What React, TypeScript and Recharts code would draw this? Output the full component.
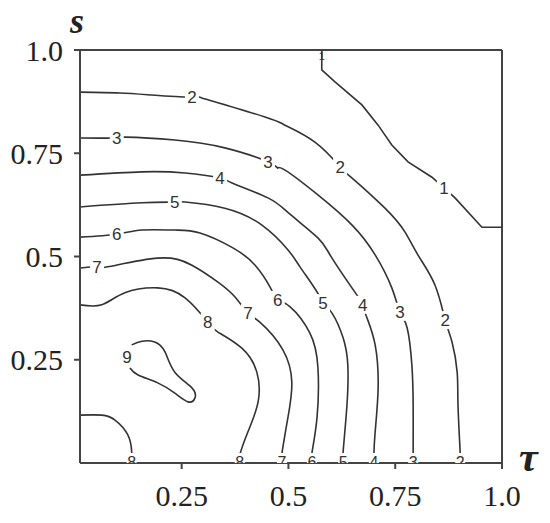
import { ComposedChart, Line, Scatter, XAxis, YAxis, ReferenceLine } from "recharts";

// contour lines, points as (tau, s)
const c1 = [
  { t: 0.578, s: 1.0 }, { t: 0.578, s: 0.952 }, { t: 0.609, s: 0.923 }, { t: 0.672, s: 0.867 },
  { t: 0.71, s: 0.818 }, { t: 0.742, s: 0.77 }, { t: 0.78, s: 0.729 }, { t: 0.836, s: 0.692 },
  { t: 0.864, s: 0.666 }, { t: 0.89, s: 0.642 }, { t: 0.953, s: 0.571 }, { t: 1.0, s: 0.571 },
];
const c2 = [
  { t: 0.012, s: 0.898 }, { t: 0.105, s: 0.896 }, { t: 0.18, s: 0.891 }, { t: 0.274, s: 0.886 },
  { t: 0.297, s: 0.884 }, { t: 0.445, s: 0.838 }, { t: 0.492, s: 0.818 }, { t: 0.562, s: 0.777 },
  { t: 0.621, s: 0.717 }, { t: 0.649, s: 0.69 }, { t: 0.726, s: 0.617 }, { t: 0.773, s: 0.559 },
  { t: 0.803, s: 0.504 }, { t: 0.843, s: 0.431 }, { t: 0.867, s: 0.346 }, { t: 0.883, s: 0.293 },
  { t: 0.895, s: 0.22 }, { t: 0.897, s: 0.14 }, { t: 0.902, s: 0.027 }, { t: 0.902, s: 0 },
];
const c3 = [
  { t: 0.012, s: 0.787 }, { t: 0.098, s: 0.787 }, { t: 0.117, s: 0.789 }, { t: 0.234, s: 0.782 },
  { t: 0.351, s: 0.763 }, { t: 0.452, s: 0.729 }, { t: 0.475, s: 0.714 }, { t: 0.492, s: 0.709 },
  { t: 0.569, s: 0.649 }, { t: 0.649, s: 0.576 }, { t: 0.703, s: 0.504 }, { t: 0.742, s: 0.424 },
  { t: 0.761, s: 0.366 }, { t: 0.778, s: 0.327 }, { t: 0.789, s: 0.237 }, { t: 0.792, s: 0.14 },
  { t: 0.792, s: 0.019 }, { t: 0.792, s: 0 },
];
const c4 = [
  { t: 0.012, s: 0.697 }, { t: 0.157, s: 0.705 }, { t: 0.258, s: 0.702 }, { t: 0.34, s: 0.69 },
  { t: 0.368, s: 0.678 }, { t: 0.452, s: 0.642 }, { t: 0.503, s: 0.603 }, { t: 0.569, s: 0.545 },
  { t: 0.602, s: 0.496 }, { t: 0.66, s: 0.407 }, { t: 0.674, s: 0.383 }, { t: 0.684, s: 0.351 },
  { t: 0.703, s: 0.286 }, { t: 0.71, s: 0.182 }, { t: 0.703, s: 0.075 }, { t: 0.7, s: 0.019 },
  { t: 0.7, s: 0 },
];
const c5 = [
  { t: 0.012, s: 0.62 }, { t: 0.157, s: 0.63 }, { t: 0.234, s: 0.632 }, { t: 0.258, s: 0.632 },
  { t: 0.351, s: 0.617 }, { t: 0.438, s: 0.576 }, { t: 0.499, s: 0.516 }, { t: 0.527, s: 0.475 },
  { t: 0.567, s: 0.414 }, { t: 0.581, s: 0.387 }, { t: 0.602, s: 0.363 }, { t: 0.628, s: 0.303 },
  { t: 0.639, s: 0.237 }, { t: 0.637, s: 0.14 }, { t: 0.628, s: 0.027 }, { t: 0.628, s: 0 },
];
const c6 = [
  { t: 0.012, s: 0.547 }, { t: 0.098, s: 0.554 }, { t: 0.157, s: 0.564 }, { t: 0.234, s: 0.564 },
  { t: 0.293, s: 0.557 }, { t: 0.37, s: 0.521 }, { t: 0.422, s: 0.479 }, { t: 0.457, s: 0.426 },
  { t: 0.475, s: 0.395 }, { t: 0.504, s: 0.378 }, { t: 0.55, s: 0.315 }, { t: 0.569, s: 0.232 },
  { t: 0.567, s: 0.111 }, { t: 0.555, s: 0.024 }, { t: 0.555, s: 0 },
];
const c7 = [
  { t: 0.012, s: 0.472 }, { t: 0.052, s: 0.475 }, { t: 0.077, s: 0.475 }, { t: 0.194, s: 0.496 },
  { t: 0.274, s: 0.479 }, { t: 0.335, s: 0.438 }, { t: 0.375, s: 0.402 },
  { t: 0.405, s: 0.363 }, { t: 0.433, s: 0.341 }, { t: 0.487, s: 0.274 }, { t: 0.508, s: 0.194 },
  { t: 0.499, s: 0.111 }, { t: 0.485, s: 0.024 }, { t: 0.485, s: 0 },
];
const c8 = [
  { t: 0.012, s: 0.383 }, { t: 0.063, s: 0.383 }, { t: 0.117, s: 0.412 }, { t: 0.194, s: 0.424 },
  { t: 0.258, s: 0.4 }, { t: 0.311, s: 0.341 }, { t: 0.335, s: 0.317 }, { t: 0.391, s: 0.278 },
  { t: 0.426, s: 0.22 }, { t: 0.429, s: 0.148 }, { t: 0.405, s: 0.075 }, { t: 0.386, s: 0.019 },
  { t: 0.386, s: 0 },
];
const c8corner = [
  { t: 0.012, s: 0.116 }, { t: 0.063, s: 0.116 }, { t: 0.094, s: 0.104 }, { t: 0.124, s: 0.068 },
  { t: 0.133, s: 0.027 }, { t: 0.133, s: 0 },
];
const c9 = [
  { t: 0.133, s: 0.286 }, { t: 0.157, s: 0.295 }, { t: 0.187, s: 0.293 }, { t: 0.211, s: 0.269 },
  { t: 0.234, s: 0.22 }, { t: 0.274, s: 0.182 }, { t: 0.281, s: 0.157 }, { t: 0.265, s: 0.148 },
  { t: 0.234, s: 0.169 }, { t: 0.194, s: 0.194 }, { t: 0.148, s: 0.213 }, { t: 0.129, s: 0.23 },
];

const lineLabels = [
  { t: 0.274, s: 0.886, label: "2" }, { t: 0.098, s: 0.787, label: "3" },
  { t: 0.452, s: 0.729, label: "3" }, { t: 0.621, s: 0.717, label: "2" },
  { t: 0.864, s: 0.666, label: "1" }, { t: 0.34, s: 0.69, label: "4" },
  { t: 0.234, s: 0.632, label: "5" }, { t: 0.098, s: 0.554, label: "6" },
  { t: 0.052, s: 0.475, label: "7" }, { t: 0.311, s: 0.341, label: "8" },
  { t: 0.122, s: 0.257, label: "9" }, { t: 0.405, s: 0.363, label: "7" },
  { t: 0.475, s: 0.395, label: "6" }, { t: 0.581, s: 0.387, label: "5" },
  { t: 0.674, s: 0.383, label: "4" }, { t: 0.761, s: 0.366, label: "3" },
  { t: 0.867, s: 0.346, label: "2" },
];
// half-hidden labels where lines meet the bottom / top edge
const edgeLabels = [
  { t: 0.133, s: 0, label: "8" }, { t: 0.386, s: 0, label: "8" }, { t: 0.485, s: 0, label: "7" },
  { t: 0.555, s: 0, label: "6" }, { t: 0.628, s: 0, label: "5" }, { t: 0.7, s: 0, label: "4" },
  { t: 0.792, s: 0, label: "3" }, { t: 0.902, s: 0, label: "2" },
];
const topLabels = [{ t: 0.578, s: 1.0, label: "1" }];

const ticks = [0.25, 0.5, 0.75, 1.0];
const contours = [c2, c3, c4, c5, c6, c7, c8, c8corner, c9];

const INK = "#333";
const fmt = (v: number) => (v === 1 ? "1.0" : String(v));
const tickFont = { fontFamily: "Liberation Serif", fontSize: 30, fill: "#222" };

const LineLabel = (props: any) => {
  const { cx, cy, payload } = props;
  return (
    <g>
      <rect x={cx - 7} y={cy - 9} width={14} height={18} fill="#fff" />
      <text x={cx} y={cy + 6} textAnchor="middle" fontFamily="Liberation Sans" fontSize={17} fill={INK}>
        {payload.label}
      </text>
    </g>
  );
};

const EdgeLabel = (props: any) => {
  const { cx, cy, payload, index } = props;
  const id = `edge-clip-${index}`;
  return (
    <g>
      <defs>
        <clipPath id={id}>
          <rect x={cx - 8} y={cy - 11} width={16} height={11} />
        </clipPath>
      </defs>
      <rect x={cx - 5} y={cy - 10} width={10} height={10} fill="#fff" />
      <text x={cx} y={cy + 5} textAnchor="middle" fontFamily="Liberation Sans" fontSize={16} fill={INK} clipPath={`url(#${id})`}>
        {payload.label}
      </text>
    </g>
  );
};

const TopLabel = (props: any) => {
  const { cx, cy, payload } = props;
  return (
    <text x={cx} y={cy + 10} textAnchor="middle" fontFamily="Liberation Sans" fontSize={11} fill={INK}>
      {payload.label}
    </text>
  );
};

export default function App() {
  return (
    <div style={{ position: "absolute", left: 0, top: 0, width: 550, height: 523, background: "#fff" }}>
      <ComposedChart width={550} height={523} margin={{ top: 50, right: 48, left: 0, bottom: 0 }}>
        <XAxis
          type="number"
          dataKey="t"
          domain={[0.012, 1]}
          allowDataOverflow
          ticks={ticks}
          tickFormatter={fmt}
          height={60}
          tickSize={6}
          tickMargin={16}
          tick={tickFont}
          axisLine={{ stroke: "#444", strokeWidth: 2 }}
          tickLine={{ stroke: "#444", strokeWidth: 2 }}
        />
        <YAxis
          type="number"
          dataKey="s"
          domain={[0, 1]}
          allowDataOverflow
          ticks={ticks}
          tickFormatter={fmt}
          width={80}
          tickSize={6}
          tickMargin={11}
          tick={tickFont}
          axisLine={{ stroke: "#444", strokeWidth: 2 }}
          tickLine={{ stroke: "#444", strokeWidth: 2 }}
        />
        <ReferenceLine y={1} stroke="#444" strokeWidth={2} />
        <ReferenceLine x={1} stroke="#444" strokeWidth={2} />
        <Line data={c1} dataKey="s" type="linear" stroke={INK} strokeWidth={1.6} dot={false} isAnimationActive={false} />
        {contours.map((c, i) => (
          <Line key={i} data={c} dataKey="s" type="natural" stroke={INK} strokeWidth={1.6} dot={false} isAnimationActive={false} />
        ))}
        <Scatter data={lineLabels} dataKey="s" shape={LineLabel} isAnimationActive={false} />
        <Scatter data={edgeLabels} dataKey="s" shape={EdgeLabel} isAnimationActive={false} />
        <Scatter data={topLabels} dataKey="s" shape={TopLabel} isAnimationActive={false} />
      </ComposedChart>
      <svg width={550} height={523} style={{ position: "absolute", left: 0, top: 0, pointerEvents: "none" }}>
        <text x={70} y={33} fontFamily="Liberation Serif" fontStyle="italic" fontWeight="bold" fontSize={36} fill="#222">
          s
        </text>
        <text x={519} y={471} fontFamily="Liberation Serif" fontStyle="italic" fontWeight="bold" fontSize={42} fill="#222">
          τ
        </text>
      </svg>
    </div>
  );
}
